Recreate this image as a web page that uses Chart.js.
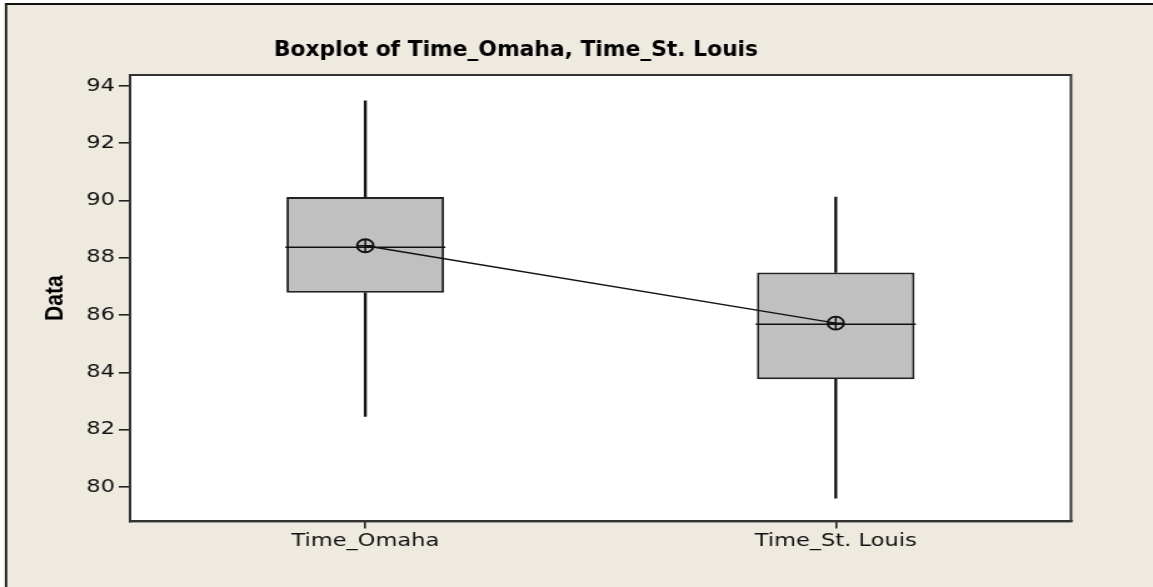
<!DOCTYPE html>
<html>
<head>
<meta charset="utf-8">
<script src="https://cdn.jsdelivr.net/npm/chart.js@4"></script>
<style>
  html, body { margin: 0; padding: 0; background: #fff; }
  #boxChart { position: absolute; left: 0; top: 0; }
</style>
</head>
<body>
<!-- drawn 922 wide and stretched to 1153 by css, the reference is squashed sideways like that -->
<canvas id="boxChart" width="922" height="587" style="width:1153px;height:587px"></canvas>
<script>
const categories = ["Time_Omaha", "Time_St. Louis"];
const mins = [82.46, 79.61];
const q1s = [86.78, 83.76];
const medians = [88.37, 85.68];
const q3s = [90.12, 87.49];
const maxs = [93.48, 90.12];
const means = [88.42, 85.72];
const yTicks = [80, 82, 84, 86, 88, 90, 92, 94];

const boxData = categories.map((c, i) => [q1s[i], q3s[i]]);
const lowWhisker = categories.map((c, i) => [mins[i], q1s[i]]);
const highWhisker = categories.map((c, i) => [q3s[i], maxs[i]]);

// minitab style page: beige panel, white plot area, frame and title
const frame = {
  id: "frame",
  beforeDraw(chart) {
    const { ctx, width, height, chartArea: a } = chart;
    ctx.save();
    ctx.fillStyle = "#fff";
    ctx.fillRect(0, 0, width, height);
    ctx.fillStyle = "#eeeae0";
    ctx.fillRect(4.8, 4, width, height);
    ctx.strokeStyle = "#111";
    ctx.lineWidth = 1.8;
    ctx.beginPath();
    ctx.moveTo(4.8, height);
    ctx.lineTo(4.8, 4);
    ctx.lineTo(width, 4);
    ctx.stroke();
    ctx.fillStyle = "#fff";
    ctx.fillRect(a.left, a.top, a.right - a.left, a.bottom - a.top);
    ctx.restore();
  },
  afterDraw(chart) {
    const { ctx, chartArea: a } = chart;
    ctx.save();
    ctx.strokeStyle = "#333";
    ctx.lineWidth = 2;
    ctx.strokeRect(a.left, a.top, a.right - a.left, a.bottom - a.top);
    // title is a narrow bold face in the original, squeeze dejavu a bit
    ctx.translate(412.6, 56);
    ctx.scale(0.83, 1);
    ctx.fillStyle = "#000";
    ctx.font = "bold 21px 'DejaVu Sans', sans-serif";
    ctx.textAlign = "center";
    ctx.textBaseline = "alphabetic";
    ctx.fillText("Boxplot of Time_Omaha, Time_St. Louis", 0, 0);
    ctx.restore();
  }
};

new Chart(document.getElementById("boxChart"), {
  type: "bar",
  data: {
    labels: categories,
    datasets: [
      {
        type: "line",
        data: means,
        borderColor: "#111",
        borderWidth: 1.5,
        tension: 0,
        pointStyle: "circle",
        pointRadius: 6.5,
        pointBorderWidth: 1.8,
        pointBorderColor: "#111",
        pointBackgroundColor: "rgba(0,0,0,0)",
        order: 0
      },
      {
        type: "line",
        data: means,
        showLine: false,
        pointStyle: "cross",
        pointRadius: 6.5,
        pointBorderWidth: 1.5,
        pointBorderColor: "#111",
        order: 0
      },
      {
        type: "line",
        data: medians,
        showLine: false,
        pointStyle: "line",
        pointRadius: 64,
        pointBorderWidth: 1.6,
        pointBorderColor: "#111",
        order: 1
      },
      {
        data: boxData,
        backgroundColor: "#c0c0c0",
        borderColor: "#222",
        borderWidth: 2,
        borderSkipped: false,
        barPercentage: 0.335,
        categoryPercentage: 1,
        grouped: false,
        order: 2
      },
      {
        data: lowWhisker,
        backgroundColor: "#111",
        barThickness: 1.7,
        grouped: false,
        order: 3
      },
      {
        data: highWhisker,
        backgroundColor: "#111",
        barThickness: 1.7,
        grouped: false,
        order: 3
      }
    ]
  },
  options: {
    responsive: false,
    devicePixelRatio: 1,
    animation: false,
    layout: { padding: { left: 0, top: 75, right: 41, bottom: 0 } },
    plugins: {
      legend: { display: false },
      tooltip: { enabled: false },
      title: { display: false }
    },
    scales: {
      x: {
        offset: true,
        afterFit: s => { s.height = 52; },
        ticks: { color: "#111", font: { family: "'DejaVu Sans'", size: 18 }, padding: 2, maxRotation: 0 },
        grid: { offset: false, drawOnChartArea: false, tickLength: 7, color: "#222", lineWidth: 1.6 },
        border: { color: "#333", width: 2 }
      },
      y: {
        min: 78.8,
        max: 94.38,
        afterBuildTicks: s => { s.ticks = yTicks.map(v => ({ value: v })); },
        afterFit: s => { s.width = 104; },
        ticks: { color: "#111", font: { family: "'DejaVu Sans'", size: 18 }, padding: 3 },
        grid: { drawOnChartArea: false, tickLength: 9, color: "#222", lineWidth: 1.6 },
        border: { color: "#333", width: 2 },
        title: {
          display: true,
          text: "Data",
          color: "#000",
          font: { family: "'Liberation Sans'", size: 21, weight: "bold" },
          padding: { top: 31.5, bottom: 0 }
        }
      }
    }
  },
  plugins: [frame]
});
</script>
</body>
</html>
